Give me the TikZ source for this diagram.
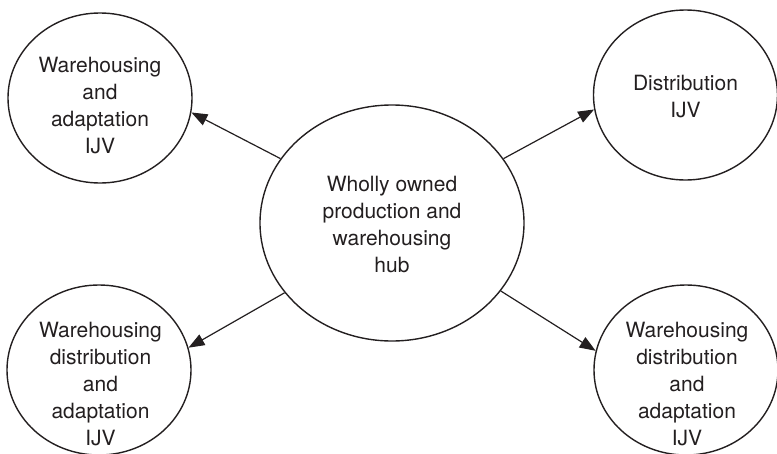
\documentclass[tikz,border=0pt]{standalone}
\usepackage{fontspec}
\setmainfont{TeX Gyre Heros}
\usetikzlibrary{shapes.geometric,arrows.meta}
\definecolor{ink}{HTML}{231F20}
\begin{document}
\begin{tikzpicture}[x=1pt,y=-1pt,
  unit/.style={ellipse,draw=ink,line width=1.4pt,inner sep=0pt,
    minimum width=184pt,minimum height=170pt},
  hubshape/.style={ellipse,draw=ink,line width=1.4pt,inner sep=0pt,
    minimum width=264pt,minimum height=236pt},
  caption/.style={align=center,inner sep=0pt,text=ink,
    font=\fontsize{21pt}{27pt}\selectfont},
  link/.style={draw=ink,line width=1.2pt,
    -{Triangle[length=16pt,width=12pt]}}]
  \useasboundingbox (0,0) rectangle (777,453);

  % central hub and the four joint ventures
  \node[hubshape] (hub) at (392,223) {};
  \node[unit] (tl) at (100,98) {};
  \node[unit] (tr) at (685.5,95) {};
  \node[unit] (bl) at (99,370) {};
  \node[unit] (br) at (686,370) {};

  % labels
  \node[caption] (hubtext) at (392,224.5)
    {Wholly owned\\production and\\warehousing\\hub};
  \node[caption] (tltext) at (100,105.5)
    {Warehousing\\and\\adaptation\\IJV};
  \node[caption] (trtext) at (685.5,96.5) {Distribution\\IJV};
  \node[caption] (bltext) at (100.5,384.5)
    {Warehousing\\distribution\\and\\adaptation\\IJV};
  \node[caption] (brtext) at (687,384.5)
    {Warehousing\\distribution\\and\\adaptation\\IJV};

  % connectors from the hub
  \draw[link] (hub.150) -- (tl.-9);
  \draw[link] (hub.30) -- (tr.189);
  \draw[link] (hub.213) -- (bl.14);
  \draw[link] (hub.-32) -- (br.168);
\end{tikzpicture}
\end{document}
